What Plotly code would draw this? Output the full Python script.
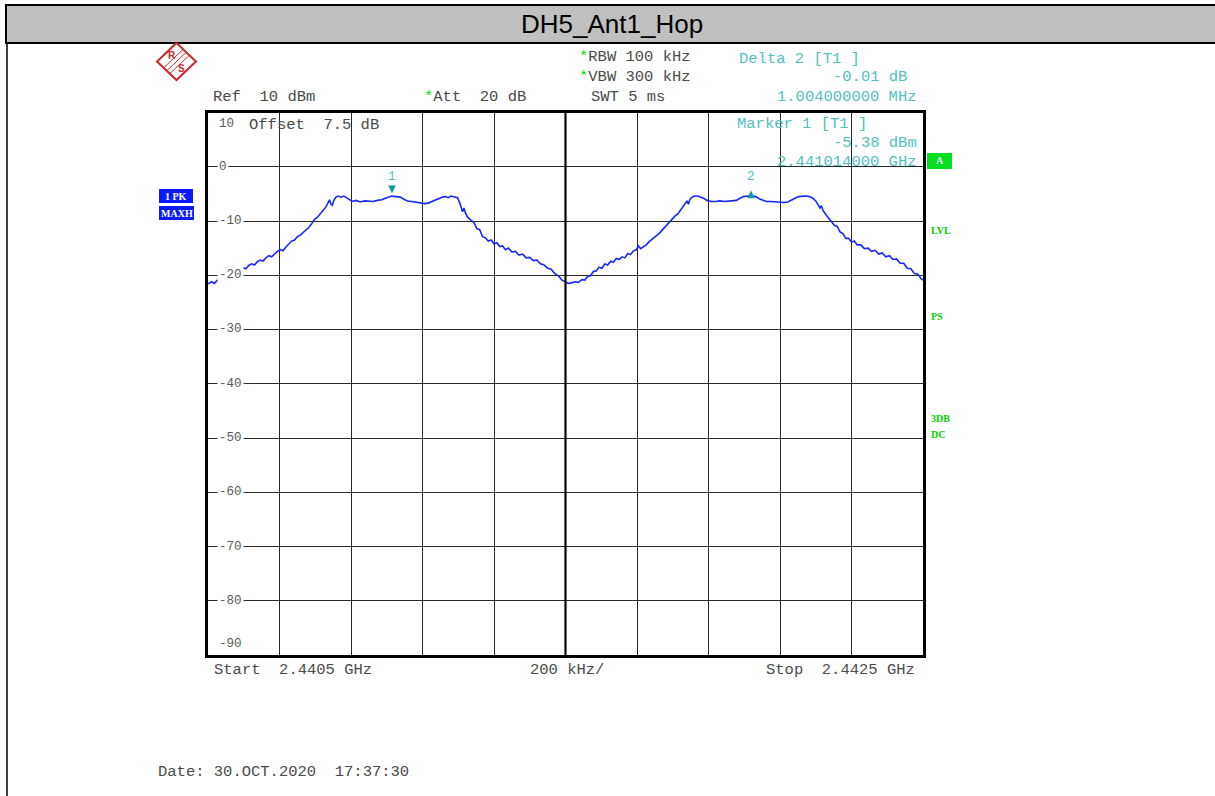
import plotly.graph_objects as go

W, H = 1215, 796

# ---------------- data ----------------
start_mhz = 2440.5
stop_mhz = 2442.5
offset_khz = [
    0, 10, 18, 26, 34, 42, 50, 58, 66, 74, 82, 90, 98, 106, 114, 122, 130, 138, 146, 154,
    162, 170, 178, 186, 194, 202, 210, 218, 226, 234, 242, 250, 258, 266, 274, 282, 290, 298,
    306, 314, 322, 330, 336, 340, 344, 348, 352, 358, 364, 372, 380, 388, 396, 404, 414, 426,
    438, 450, 462, 474, 486, 496, 506, 514, 526, 538, 548, 558, 570, 582, 594, 606, 616, 626,
    636, 646, 656, 664, 672, 680, 690, 698, 704, 708, 712, 716, 720, 726, 732, 738, 744, 752,
    760, 768, 776, 784, 792, 800, 808, 816, 824, 832, 840, 850, 860, 870, 880, 890, 900, 910,
    920, 930, 940, 950, 960, 970, 980, 990, 1000, 1008,
    1016, 1026, 1036, 1046, 1054, 1062, 1070, 1078, 1086, 1094, 1102, 1110, 1118, 1126, 1134,
    1142, 1150, 1158, 1166, 1174, 1182, 1190, 1198, 1204, 1210, 1218, 1226, 1234, 1242, 1250,
    1258, 1266, 1274, 1282, 1290, 1298, 1306, 1314, 1322, 1330, 1336, 1340, 1344, 1348, 1354,
    1362, 1370, 1378, 1386, 1396, 1408, 1420, 1432, 1444, 1456, 1468, 1478, 1488, 1498, 1510,
    1522, 1532, 1542, 1552, 1562, 1574, 1586, 1598, 1610, 1622, 1632, 1642, 1652, 1662, 1672,
    1682, 1692, 1700, 1706, 1712, 1716, 1720, 1728, 1736, 1744, 1752, 1760, 1768, 1776, 1784,
    1792, 1800, 1808, 1816, 1826, 1836, 1846, 1856, 1866, 1876, 1886, 1896, 1906, 1916, 1926,
    1936, 1946, 1956, 1966, 1976, 1986, 1994, 2000,
]
level_dbm = [
    -21.6, -21.2, -21.5, -20.9, -21.1, -20.4, -20.7, -20.0, -19.8, -19.3, -19.5, -18.9, -18.6,
    -18.8, -18.2, -17.9, -18.1, -17.5, -17.2, -17.4, -16.8, -16.4, -16.6, -16.0, -15.6, -15.3,
    -15.5, -14.8, -14.3, -13.7, -13.5, -12.9, -12.6, -12.1, -11.7, -11.2, -10.5, -9.7, -9.3,
    -8.6, -8.0, -7.4, -6.6, -6.1, -6.9, -7.1, -6.2, -5.6, -5.4, -5.6, -5.4, -5.7, -6.1, -6.4,
    -6.2, -6.5, -6.3, -6.4, -6.4, -6.2, -6.1, -5.8, -5.5, -5.4, -5.5, -5.6, -6.0, -6.3, -6.4,
    -6.5, -6.6, -6.8, -6.7, -6.4, -6.1, -5.9, -5.6, -5.5, -5.7, -5.4, -5.5, -5.7, -6.6, -7.4,
    -8.3, -7.6, -8.5, -9.3, -9.7, -10.0,
    -10.3, -11.4, -11.6, -12.9, -13.1, -13.7, -13.5, -14.2, -14.0, -14.7, -14.6, -15.3, -15.0,
    -15.7, -15.6, -16.3, -16.1, -16.8, -16.7, -17.3, -17.2, -17.9, -18.1, -18.7, -18.9, -19.7,
    -20.1, -20.9, -21.2, -21.5,
    -21.4, -21.2, -21.3, -20.8, -20.9, -20.2, -20.1, -19.3, -19.2, -18.5, -18.7, -17.9, -18.1,
    -17.4, -17.6, -16.9, -17.1, -16.6, -16.8, -16.0, -16.2, -15.5, -15.3, -14.6, -15.1, -14.8,
    -14.4, -13.8, -13.4, -12.9, -12.5, -12.0, -11.4, -10.7, -10.2, -9.6, -9.1, -8.7, -7.9,
    -7.1, -6.6, -6.3, -6.9, -6.0, -5.6, -5.4, -5.4, -5.6, -5.8, -6.2, -6.4, -6.4, -6.3, -6.4,
    -6.3, -6.3, -6.2, -5.8, -5.5, -5.4, -5.4, -5.5, -5.9, -6.2, -6.4, -6.4, -6.5, -6.6, -6.6,
    -6.5, -6.1, -5.8, -5.5, -5.4, -5.4, -5.5, -5.8, -6.3, -7.0, -7.6, -7.2, -8.0, -8.8, -9.5,
    -10.0, -10.8, -11.0, -12.0, -12.3, -13.2, -13.2, -13.9, -13.7, -14.4, -14.4, -15.1, -15.0,
    -15.6, -15.4, -16.1, -15.9, -16.6, -16.4, -17.1, -17.0, -17.8, -17.8, -18.7, -18.8, -19.7,
    -19.8, -20.6, -20.9,
]
freq_mhz = [start_mhz + k / 1000.0 for k in offset_khz]

marker_names = ["1", "2"]
marker_freq_mhz = [2441.014, 2442.018]
marker_level = [-5.38, -5.39]
marker_symbols = ["\u25BC", "\u25B2"]

ytick_vals = [10, 0, -10, -20, -30, -40, -50, -60, -70, -80, -90]
ytick_text = ["10", "0", "-10", "-20", "-30", "-40", "-50", "-60", "-70", "-80", "-90"]

title_text = "DH5_Ant1_Hop"

# ---------------- helpers ----------------
def px(x):
    return x / W

def py(y):
    return 1 - y / H

MONO = "Liberation Mono, Courier New, monospace"
GRAY = "#4a4a4a"
TEAL = "#52bfbf"
GREEN = "#00dd00"

annotations = []
shapes = []

def txt(x, y, text, color=GRAY, size=15.5, xanchor="left", family=MONO, bold=False, bg=None):
    a = dict(x=px(x), y=py(y), xref="paper", yref="paper", text=("<b>%s</b>" % text) if bold else text,
             showarrow=False, xanchor=xanchor, yanchor="middle",
             font=dict(family=family, size=size, color=color))
    if bg:
        a["bgcolor"] = bg
    annotations.append(a)

# ---------------- figure ----------------
fig = go.Figure()
fig.add_trace(go.Scatter(x=freq_mhz, y=level_dbm, mode="lines",
                         line=dict(color="rgb(20,40,255)", width=1.6),
                         hoverinfo="skip", showlegend=False))

x_dom = [px(208), px(923)]
y_dom = [py(655), py(112.5)]

fig.update_layout(
    width=W, height=H,
    margin=dict(l=0, r=0, t=0, b=0),
    paper_bgcolor="white", plot_bgcolor="white",
    showlegend=False,
    xaxis=dict(domain=x_dom, range=[start_mhz, stop_mhz], tick0=start_mhz, dtick=0.2,
               showgrid=True, gridcolor="#2a2a2a", gridwidth=1, zeroline=False,
               showticklabels=False, ticks="", showline=True, linecolor="black",
               linewidth=3, mirror=True, fixedrange=True),
    yaxis=dict(domain=y_dom, range=[-90, 10], tick0=-90, dtick=10,
               showgrid=True, gridcolor="#2a2a2a", gridwidth=1, zeroline=False,
               showticklabels=False, ticks="", showline=True, linecolor="black",
               linewidth=3, mirror=True, fixedrange=True),
)

# centre line (thicker)
shapes.append(dict(type="line", xref="x", yref="y domain", x0=(start_mhz + stop_mhz) / 2,
                   x1=(start_mhz + stop_mhz) / 2, y0=0, y1=1,
                   line=dict(color="black", width=2.2)))

# y labels inside plot
for v, t in zip(ytick_vals, ytick_text):
    shift = 0
    if v == 10:
        shift = -12
    elif v == -90:
        shift = 11
    annotations.append(dict(x=px(217), y=v, xref="paper", yref="y", text=t, showarrow=False,
                            xanchor="left", yanchor="middle", yshift=shift,
                            bgcolor="white" if shift == 0 else None, borderpad=1,
                            font=dict(family=MONO, size=12.5, color="#5a5a5a")))

# markers
for name, f, lv, sym in zip(marker_names, marker_freq_mhz, marker_level, marker_symbols):
    annotations.append(dict(x=f, y=lv, xref="x", yref="y", text=sym, showarrow=False,
                            yshift=7 if sym == "\u25BC" else 2,
                            font=dict(family="DejaVu Sans", size=10, color="#109a9a")))
    annotations.append(dict(x=f, y=lv, xref="x", yref="y", text=name, showarrow=False,
                            yshift=19, font=dict(family=MONO, size=12.5, color=TEAL)))

# title bar
shapes.append(dict(type="rect", xref="paper", yref="paper", x0=px(6), x1=px(1218), y0=py(43), y1=py(5),
                   fillcolor="#c0c0c0", line=dict(color="black", width=2), layer="below"))
shapes.append(dict(type="line", xref="paper", yref="paper", x0=px(7), x1=px(7), y0=py(43), y1=py(800),
                   line=dict(color="black", width=1.5)))
annotations.append(dict(x=px(612), y=py(24), xref="paper", yref="paper", text=title_text,
                        showarrow=False, xanchor="center", yanchor="middle",
                        font=dict(family="Liberation Sans, Arial", size=26, color="black")))

# R&S logo
cx, cy, hw, hh = 176.5, 61.5, 19.5, 18.5
RED = "#cc2a2a"
def pt(x, y):
    return "%f,%f" % (px(x), py(y))
shapes.append(dict(type="path", xref="paper", yref="paper",
                   path="M%s L%s L%s L%s Z" % (pt(cx, cy - hh), pt(cx + hw, cy), pt(cx, cy + hh), pt(cx - hw, cy)),
                   line=dict(color=RED, width=2)))
for d in (-3, 0, 3):
    shapes.append(dict(type="line", xref="paper", yref="paper",
                       x0=px(cx + 9.5 + d), y0=py(cy - 9 + d), x1=px(cx - 9.5 + d), y1=py(cy + 9 + d),
                       line=dict(color=RED, width=1)))
txt(cx - 5, cy - 6, "R", color=RED, size=10, xanchor="center", family="Liberation Sans", bold=True)
txt(cx + 5, cy + 7, "S", color=RED, size=10, xanchor="center", family="Liberation Sans", bold=True)

# header texts
STAR = "<span style='color:%s'>*</span>" % GREEN
txt(211, 97, "Ref  10 dBm")
txt(422, 97, STAR + "Att  20 dB")
txt(577, 57, STAR + "RBW 100 kHz")
txt(577, 77, STAR + "VBW 300 kHz")
txt(589, 97, "SWT 5 ms")
txt(737, 59, "Delta 2 [T1 ]", color=TEAL)
txt(909, 77, "-0.01 dB", color=TEAL, xanchor="right")
txt(919, 97, "1.004000000 MHz", color=TEAL, xanchor="right")

# inside-plot texts
txt(247, 125, "Offset  7.5 dB")
txt(735, 124, "Marker 1 [T1 ]", color=TEAL)
txt(919, 143, "-5.38 dBm", color=TEAL, xanchor="right")
txt(919, 162, "2.441014000 GHz", color=TEAL, xanchor="right")

# left status boxes
shapes.append(dict(type="rect", xref="paper", yref="paper", x0=px(159), x1=px(193), y0=py(203), y1=py(189),
                   fillcolor="#0a1aff", line=dict(width=0)))
shapes.append(dict(type="rect", xref="paper", yref="paper", x0=px(159), x1=px(194), y0=py(220), y1=py(206),
                   fillcolor="#0a1aff", line=dict(width=0)))
txt(176, 196, "1 PK", color="white", size=10, xanchor="center", family="Liberation Serif", bold=True)
txt(176.5, 213, "MAXH", color="white", size=10, xanchor="center", family="Liberation Serif", bold=True)

# right status
shapes.append(dict(type="rect", xref="paper", yref="paper", x0=px(927), x1=px(952), y0=py(169), y1=py(153),
                   fillcolor="#00e020", line=dict(width=0)))
txt(939.5, 161, "A", color="white", size=10, xanchor="center", family="Liberation Serif", bold=True)
txt(929, 231, "LVL", color="#00d000", size=10, family="Liberation Serif", bold=True)
txt(929, 316, "PS", color="#00d000", size=10, family="Liberation Serif", bold=True)
txt(929, 418, "3DB", color="#00d000", size=10, family="Liberation Serif", bold=True)
txt(929, 435, "DC", color="#00d000", size=10, family="Liberation Serif", bold=True)

# bottom texts
txt(212, 670, "Start  2.4405 GHz")
txt(528, 670, "200 kHz/")
txt(917, 670, "Stop  2.4425 GHz", xanchor="right")
txt(156, 772, "Date: 30.OCT.2020  17:37:30")

fig.update_layout(shapes=shapes, annotations=annotations)
fig.write_html("out.html", config={"displayModeBar": False},
               post_script="document.body.style.margin='0px';document.body.style.overflow='hidden';")
